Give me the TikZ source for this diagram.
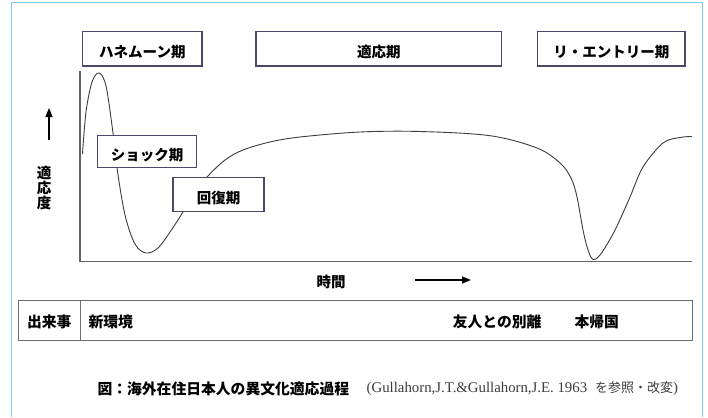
\documentclass[tikz,border=0pt]{standalone}
\usepackage{fontspec}
\setmainfont{Liberation Serif}
\newfontfamily\jp{Noto Sans CJK JP}
\usetikzlibrary{arrows.meta}
\definecolor{framec}{RGB}{130,205,238}
\definecolor{boxc}{RGB}{75,72,105}
\definecolor{axisc}{RGB}{100,100,100}
\definecolor{curvec}{RGB}{60,60,60}
\definecolor{tablec}{RGB}{110,110,110}
\definecolor{citec}{RGB}{60,60,60}
\begin{document}
\begin{tikzpicture}[x=1pt,y=-1pt,
  phase/.style={draw=boxc, line width=1.3pt, fill=white, inner sep=0pt,
    text height=16.5pt, text depth=0pt,
    font=\jp\bfseries\fontsize{14.5}{16}\selectfont},
  lbl/.style={font=\jp\bfseries\fontsize{14.5}{16}\selectfont, inner sep=0pt},
  evt/.style={font=\jp\bfseries\fontsize{14.8}{16}\selectfont, inner sep=0pt},
  arr/.style={line width=1.1pt, -{Triangle[length=9pt,width=7pt]}}]
\useasboundingbox (0,0) rectangle (708,417);
% outer frame
\draw[framec, line width=1pt] (11,417) -- (11,3) -- (702,3) -- (702,417);
% axes
\draw[axisc, line width=1.1pt] (80,71) -- (80,261.7) -- (691.7,261.7);
% curve
\draw[curvec, line width=0.9pt] plot[smooth, tension=0.55] coordinates {
 (82.5,154) (86,112) (92,82) (99,73) (106,86) (113,133) (117,168)
 (125,215) (135,244) (146,253) (158,248) (170,232) (183,212) (195,192)
 (207,177) (225,160) (243,150) (270,142) (300,137) (360,132) (420,131.5)
 (490,135.7) (537,148) (560,163) (571,178) (577,197) (583,230) (588,250)
 (593,259.5) (600,255) (609,241) (617,226) (630,197) (643,167) (663,143)
 (680,137.5) (692,136.5)};
% phase boxes
\node[phase, minimum width=119.3pt, minimum height=34.3pt] (honey) at (142.35,48.85) {ハネムーン期};
\node[phase, minimum width=245.7pt, minimum height=34.3pt] (adapt) at (378.85,48.85) {適応期};
\node[phase, minimum width=147.3pt, minimum height=34.3pt] (reentry) at (611.35,48.85) {リ・エントリー期};
\node[phase, minimum width=98.6pt, minimum height=32.4pt, text height=17.5pt] (shock) at (147,151.5) {ショック期};
\node[phase, minimum width=91pt, minimum height=34pt, text height=17pt] (recov) at (218.5,194.7) {回復期};
% axis labels and arrows
\coordinate (u0) at (49,140);
\coordinate (u1) at (49,108);
\draw[arr] (u0) -- (u1);
\node[lbl, align=center, font=\jp\bfseries\fontsize{14.5}{14.7}\selectfont] (ylab) at (44,188) {適\\応\\度};
\node[lbl] (xlab) at (331,282) {時間};
\coordinate (r0) at (415,280);
\coordinate (r1) at (471,280);
\draw[arr] (r0) -- (r1);
% events table
\node[draw=tablec, line width=1.1pt, minimum width=674pt, minimum height=39.6pt, inner sep=0pt] (events) at (355.3,320.5) {};
\draw[tablec, line width=1.1pt] (80.3,300.7) -- (80.3,340.3);
\node[evt] (ev0) at (49.2,321.7) {出来事};
\node[evt, anchor=west] (ev1) at (88.3,321.7) {新環境};
\node[evt] (ev2) at (497.2,321.7) {友人との別離};
\node[evt] (ev3) at (596.7,321.7) {本帰国};
% caption
\node[evt, font=\jp\bfseries\fontsize{14.8}{16}\selectfont] (cap) at (223.3,389) {図：海外在住日本人の異文化適応過程};
\node[inner sep=0pt, anchor=west, text=citec, font=\fontsize{14.8}{16}\selectfont] (cite) at (366.5,389)
  {(Gullahorn,J.T.\&Gullahorn,J.E. 1963\hspace{8pt}{\jp\fontsize{13}{14}\selectfont を参照・改変})};
\end{tikzpicture}
\end{document}
